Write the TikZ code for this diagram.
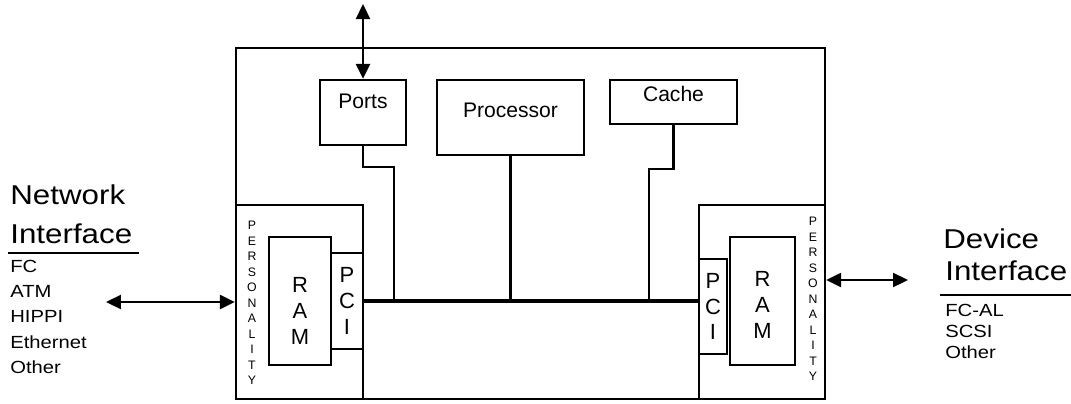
\documentclass[tikz,border=0pt]{standalone}
\usepackage{fontspec}
\setmainfont{Liberation Sans}
\newfontfamily\sidefont{Liberation Sans}[FakeStretch=1.15]
\usetikzlibrary{arrows.meta, fit}

\tikzset{
  blk/.style={draw, line width=1.3pt, inner sep=0pt},
  wire/.style={line width=1.2pt},
  bus/.style={line width=2.4pt},
  dbl/.style={line width=1.3pt, {Triangle[length=0.3cm,width=0.28cm]}-{Triangle[length=0.3cm,width=0.28cm]}},
  vtxt/.style={align=center, inner sep=0pt, font=\fontsize{7}{8.8}\selectfont},
  boxtxt/.style={font=\fontsize{12}{14}\selectfont},
  ramtxt/.style={align=center, inner sep=0pt, anchor=center, font=\fontsize{12.5}{14.6}\selectfont},
  bigtxt/.style={anchor=west, inner sep=0pt, font=\sidefont\fontsize{15.5}{18}\selectfont},
  listtxt/.style={anchor=north west, align=left, inner sep=0pt, font=\sidefont\fontsize{10}{14.3}\selectfont},
}

\begin{document}
\begin{tikzpicture}[x=0.02cm,y=-0.02cm]
  \useasboundingbox (0,0) rectangle (1071,403);
  \node[blk, fit={(236,48) (825,399)}] (main) {};
  \node[blk, fit={(236,205) (363,399)}] (lpers) {};
  \node[blk, fit={(699,205) (825,399)}] (rpers) {};
  \node[blk, fit={(269,237) (331,365)}, label={[ramtxt,yshift=-0.2cm]center:R\\A\\M}] (lram) {};
  \node[blk, fit={(331,253) (363,349)}, label={[ramtxt]center:P\\C\\I}] (lpci) {};
  \node[blk, fit={(730,237) (795,365)}, label={[ramtxt,yshift=-0.08cm]center:R\\A\\M}] (rram) {};
  \node[blk, fit={(699,259) (727,354)}, label={[ramtxt]center:P\\C\\I}] (rpci) {};
  \foreach \x/\y/\n in {252/303/lptxt, 813/299/rptxt} {
    \node[vtxt] (\n) at (\x,\y) {P\\E\\R\\S\\O\\N\\A\\L\\I\\T\\Y};
  }
  \node[blk, fit={(320,80) (406,145)}, label={[boxtxt,anchor=center,yshift=-0.44cm]north:Ports}] (ports) {};
  \node[blk, boxtxt, fit={(437,80) (584,155)}] (proc) {Processor};
  \node[blk, boxtxt, fit={(610,80) (737,124)}] (cache) {Cache};
  \draw[bus] (lpci.east) -- (lpci.east -| rpci.west);
  \coordinate (tapP) at (394,301);
  \coordinate (tapB) at (510.5,301);
  \coordinate (tapC) at (649,301);
  \draw[wire] (ports.south) -- ++(0,21) -| (tapP);
  \draw[wire] (proc.south) -- (tapB);
  \draw[wire] (cache.south) -- ++(0,44) -| (tapC);
  \coordinate (portx) at (363,4);
  \coordinate (netx) at (106,302);
  \coordinate (devx) at (908,280);
  \draw[dbl] (portx) -- (ports.north);
  \draw[dbl] (netx) -- (lpers.west);
  \draw[dbl] (rpers.east |- devx) -- (devx);
  \node[bigtxt] (nnet) at (10,195) {Network};
  \node[bigtxt] (nif) at (10,234) {Interface};
  \draw[line width=1.4pt] (8,253) -- (139,253);
  \node[listtxt] (nlist) at (10,260) {FC\\ATM\\HIPPI\\Ethernet\\Other};
  \node[bigtxt] (ddev) at (943,239) {Device};
  \node[bigtxt] (dif) at (945,271) {Interface};
  \draw[line width=1.4pt] (940,295) -- (1071,295);
  \node[listtxt, font=\sidefont\fontsize{10}{12}\selectfont] (dlist) at (945,304) {FC-AL\\SCSI\\Other};
\end{tikzpicture}
\end{document}
